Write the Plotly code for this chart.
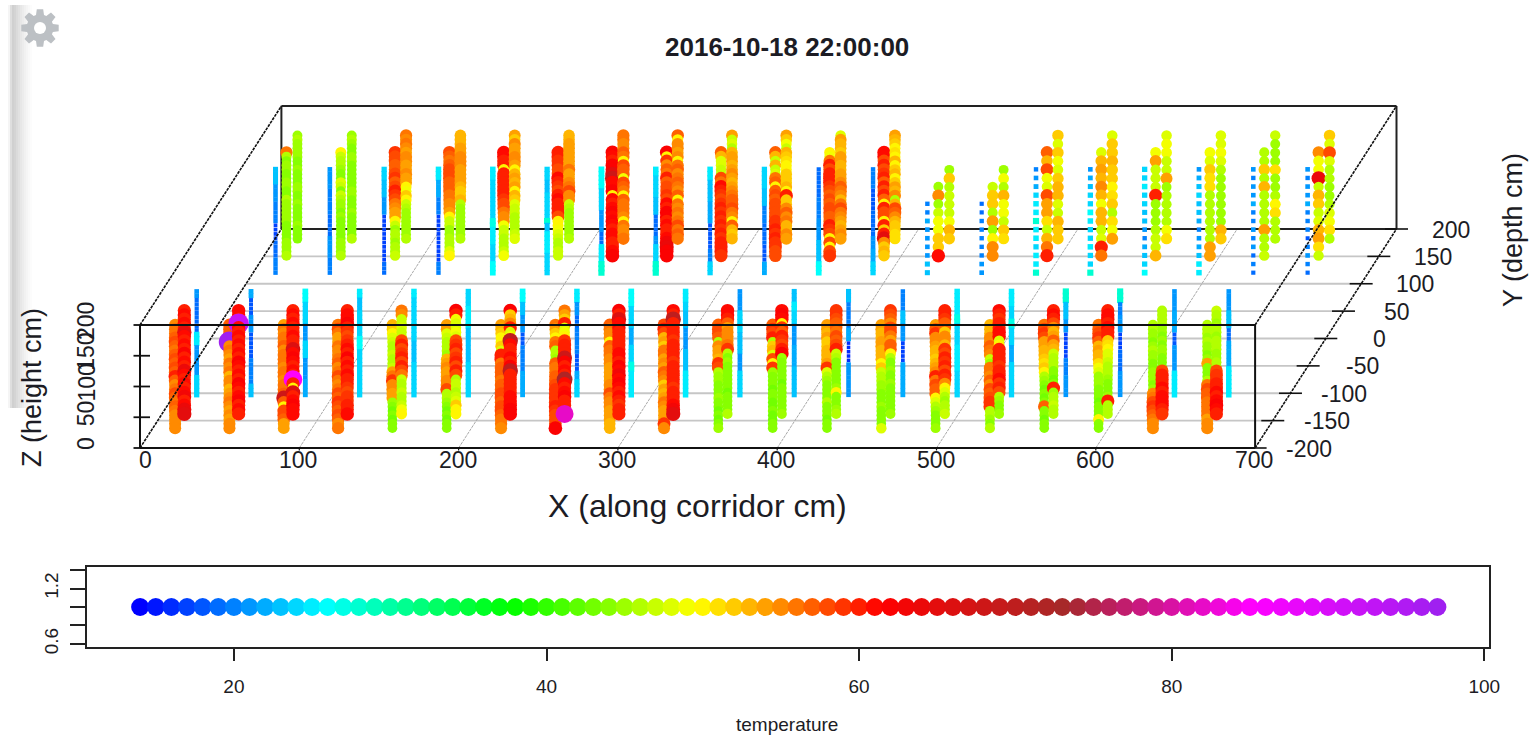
import math
import plotly.graph_objects as go

TITLE = "2016-10-18 22:00:00"
X_TICKS = [0, 100, 200, 300, 400, 500, 600, 700]
Y_TICKS = [-200, -150, -100, -50, 0, 50, 100, 150, 200]
Z_TICKS = [0, 50, 100, 150, 200]
COLOR_ANCHORS = ["#0000ff", "#00ffff", "#00ff00", "#ffff00", "#ff0000", "#a52a2a", "#ff00ff", "#a020f0"]
T_LEGEND = list(range(14, 98))
LEG_X_TICKS = [20, 40, 60, 80, 100]
LEG_Y_TICKS = [0.6, 0.8, 1.0, 1.2, 1.4]
LEG_Y_TEXT = ["0.6", "", "", "1.2", ""]

X_POS = [16.5, 50.6, 84.7, 118.8, 152.9, 187.0, 221.1, 255.2, 289.3, 323.4,
         357.5, 391.6, 425.7, 459.8, 493.9, 528.0, 562.1, 596.2, 630.3, 664.4]
Z_DENSE = [10, 17, 24, 31, 38, 45, 52, 59, 66, 73, 80, 87, 94, 101, 108, 115, 122, 129, 136, 143, 150, 157, 164, 171, 178]
Z_SPARSE = [10, 24, 38, 52, 66, 80, 94, 108, 122, 136, 150, 164, 178]
Y_FRONT_A, Y_FRONT_B, Y_FRONT_C = -175, -149, -114
Y_BACK_C, Y_BACK_A, Y_BACK_B = 109, 140, 171

FRONT_A = [
 [55,55,55,55,56,57,56,57,58,56,55,57,60,57,58,57,58,57,56,57,58,57,56,56,55],
 [55,55,54,55,54,55,56,55,54,53,55,55,53,56,55,56,54,55,56,55,97,55,57,57,57],
 [54,54,57,58,58,50,57,68,57,56,56,55,56,56,55,56,56,56,55,57,56,56,55,56,54],
 [56,55,57,58,57,58,59,57,58,56,55,56,58,56,55,57,56,55,55,56,54,54,56,58,56],
 [44,44,43,44,43,44,45,54,54,55,55,59,56,54,47,46,46,47,46,46,47,48,50,52,53],
 [44,44,43,44,43,44,45,46,46,58,55,55,54,54,55,54,53,45,46,46,46,47,48,54,54],
 [55,56,56,57,58,58,57,58,58,57,57,56,57,57,57,56,60,60,48,52,50,50,52,53,54],
 [62,58,58,58,59,60,59,59,59,59,58,57,57,56,56,57,45,46,46,57,56,50,52,54,56],
 [53,53,54,54,54,55,55,56,58,55,55,54,54,54,54,55,55,56,56,57,50,55,55,56,57],
 [55,59,54,54,54,55,56,54,53,54,52,55,56,57,54,55,54,56,56,52,54,53,58,60,58],
 [45,44,43,44,43,44,44,45,44,44,44,45,45,46,58,59,53,54,54,55,46,57,58,58,57],
 [44,44,43,43,44,43,43,44,44,43,44,44,44,45,59,50,58,48,53,52,46,60,58,59,57],
 [44,44,43,44,44,44,46,44,44,44,44,45,46,48,59,54,53,53,53,52,52,54,53,54,54],
 [48,44,44,44,44,45,44,44,44,45,45,46,46,47,52,50,53,53,53,54,54,53,53,54,54],
 [45,44,44,44,45,46,48,50,57,57,58,56,60,55,54,53,52,53,53,54,55,55,59,57,54],
 [46,44,45,46,46,59,59,58,57,58,55,57,55,56,56,45,47,55,56,57,55,55,53,53,53],
 [44,44,43,44,44,57,44,43,44,43,44,45,46,50,52,51,52,53,53,54,54,58,59,58,56],
 [44,44,50,44,44,44,43,44,44,44,45,45,45,48,49,51,53,53,54,53,57,59,58,57,56],
 [55,55,56,57,58,59,58,56,55,45,44,45,45,45,44,44,45,45,46,45,44,45,45,46,46],
 [55,55,54,56,56,56,56,57,57,58,56,46,44,44,44,54,45,44,45,45,46,45,46,46,46],
]
FRONT_B = [
 [65,64,61,60,63,61,60,61,60,61,64,60,61,60,62,60,61,60,61,65,60,61,60,61,60],
 [60,61,60,62,61,60,61,62,60,61,60,61,62,60,61,60,61,60,61,60,61,92,60,61,61],
 [61,61,62,61,60,66,50,60,85,60,61,60,61,62,61,66,60,60,61,60,60,61,60,61,60],
 [61,60,60,59,59,58,59,60,60,61,60,61,60,62,60,61,60,59,58,59,60,62,61,61,60],
 [50,49,47,46,46,47,46,46,47,56,58,60,58,60,59,58,60,58,47,47,48,47,47,55,56],
 [50,50,52,48,47,46,47,47,46,58,60,58,60,59,58,60,59,58,48,49,48,48,49,60,62],
 [62,62,61,61,61,60,60,60,60,60,70,62,60,61,60,60,61,70,49,48,60,55,53,52,62],
 [82,60,60,60,62,61,60,61,72,60,61,60,62,68,60,60,60,59,50,49,48,60,52,54,56],
 [60,60,59,60,61,60,61,62,61,63,61,62,60,61,61,60,60,60,60,60,61,61,66,60,62],
 [65,63,61,60,60,60,59,60,60,60,60,60,59,60,60,60,60,59,60,60,60,60,70,60,61],
 [46,44,44,44,44,43,44,44,44,44,44,44,45,44,46,59,56,55,55,55,54,57,60,61,61],
 [45,44,44,44,44,44,44,43,44,44,44,44,44,45,62,60,58,59,60,57,59,50,61,62,61],
 [46,45,44,44,44,50,45,44,44,44,44,44,44,46,47,60,58,57,58,56,57,57,58,59,59],
 [45,44,44,44,44,44,44,45,44,44,45,44,44,46,50,57,57,54,56,58,58,55,57,58,59],
 [47,46,46,45,46,48,50,55,59,60,58,60,59,60,58,59,53,55,55,52,57,57,59,60,60],
 [45,44,44,45,46,58,60,59,61,60,60,59,60,60,60,60,50,48,61,61,60,60,59,60,61],
 [46,46,47,46,46,45,60,44,43,44,44,46,46,46,47,53,54,57,54,53,55,58,60,61,60],
 [46,46,46,60,45,44,44,44,45,46,46,46,47,48,48,50,51,52,60,60,61,60,61,61,60],
 [59,60,61,61,61,60,61,60,60,60,58,44,44,44,45,45,44,45,44,45,45,46,46,46,46],
 [60,61,62,61,60,61,60,60,59,59,58,46,46,45,45,46,46,46,45,46,46,45,46,46,47],
]
FRONT_C = [
 [24]*5+[21]*7+[25]*3+[19]*8+[21]*2,
 [23]*3+[20]*6+[18]*6+[21]*4+[18]*4+[22]*2,
 [22]*4+[21]*5+[24]*4+[21]*4+[24]*5+[26]*3,
 [24]*11+[26]*3+[24]*6+[23]*3+[25]*2,
 [24]*8+[23]*5+[24]*10+[25]*2,
 [24]*8+[23]*8+[25]*5+[24]*4,
 [22]*6+[20]*6+[18]*3+[21]*4+[23]*3+[26]*3,
 [24]*4+[22]*2+[18]*4+[20]*6+[19]*3+[21]*3+[25]*3,
 [25]*6+[27]*2+[24]*4+[22]*4+[24]*5+[26]*4,
 [25]*6+[23]*5+[21]*5+[23]*4+[24]*2+[25]*3,
 [24]*6+[21]*4+[23]*5+[24]*5+[21]*5,
 [23]*7+[22]*5+[21]*5+[24]*3+[25]*2+[23]*3,
 [21]*8+[16]*5+[22]*3+[20]*6+[23]*3,
 [22]*8+[17]*5+[21]*4+[23]*3+[20]*5,
 [24]*6+[25]*6+[24]*5+[27]*2+[25]*6,
 [24]*8+[22]*4+[24]*4+[27]*2+[24]*3+[25]*4,
 [21]*5+[20]*4+[17]*6+[21]*3+[23]*4+[28]*3,
 [21]*6+[19]*5+[17]*4+[21]*4+[20]*3+[28]*3,
 [25]*6+[21]*6+[18]*3+[22]*5+[21]*5,
 [25]*7+[22]*6+[19]*3+[23]*4+[21]*5,
]
BACK_C = [
 [20]*4+[19]*4+[17]*4+[20]*5+[21]*4+[23]*4,
 [20]*4+[21]*5+[19]*5+[20]*6+[21]*5,
 [19]*3+[17]*11+[21]*4+[23]*4+[24]*3,
 [20]*3+[17]*11+[20]*4+[22]*4+[25]*3,
 [26]*3+[24]*4+[25]*4+[27]*2+[24]*9+[25]*3,
 [24]*5+[25]*5+[23]*2+[28]+[24]*6+[23]*3+[24]*3,
 [28]*3+[25]*4+[19]*3+[21]*5+[24]*5+[26]*5,
 [28]*3+[24]*4+[21]*2+[19]*5+[23]*4+[24]*5+[25]*2,
 [24]*3+[20]*3+[18]*6+[22]*5+[23]*5+[25]*3,
 [22]*3+[18]*4+[19]*5+[20]*4+[23]*4+[24]*5,
 [26]*3+[23]*5+[21]*5+[20]*5+[19]*7,
 [24]*3+[22]*3+[21]*3+[19]*6+[18]*5+[20]*5,
 [23,23,21,21,21,21,22,20,20],
 [21,21,20,20,20,20,20,19,19],
 [28,25,25,24,25,25,28,25,25,24,22,21,20],
 [28,24,24,25,24,24,25,26,24,24,23,22,21],
 [26,24,23,22,20,21,23,23,24,24,25,24,24],
 [25,25,23,22,21,20,22,23,23,24,23,22,21],
 [19,20,19,21,20,21,20,20,22,21,21,20,21],
 [19,20,21,20,18,20,20,20,22,21,21,20,21],
]
BACK_A = [
 [46,45,45,45,44,44,44,44,45,45,45,45,45,46,44,44,45,45,44,44,45,45,44,46,56],
 [46,45,45,45,44,44,44,44,44,45,44,45,45,46,47,44,47,48,44,44,45,46,46,47,50],
 [47,46,46,45,46,46,45,47,50,54,54,55,56,58,59,60,58,57,59,58,57,57,58,58,59],
 [50,48,46,46,46,45,45,47,47,50,54,55,55,56,56,57,57,57,58,58,58,57,56,57,58],
 [49,47,46,46,46,47,47,49,55,55,56,58,58,59,60,60,60,60,60,60,50,60,60,61,61],
 [47,47,46,46,47,48,49,50,50,58,60,60,60,61,60,58,59,60,61,58,58,59,59,60,60],
 [62,61,60,60,61,61,60,61,62,61,62,61,60,61,50,62,61,61,68,65,62,62,60,61,62],
 [62,62,64,63,61,60,60,61,60,62,62,60,61,58,59,58,58,57,60,56,57,55,59,50,62],
 [59,60,60,60,59,60,59,60,59,60,59,60,59,58,59,60,61,56,58,47,47,48,48,53,57],
 [58,58,59,59,60,59,60,59,59,58,58,58,58,57,58,57,50,57,56,48,47,53,47,53,57],
 [59,58,50,58,50,58,59,60,57,57,58,58,57,58,57,58,59,60,60,60,58,60,56,49,50],
 [52,53,52,55,65,60,52,60,50,58,58,60,50,57,60,58,60,57,60,59,58,60,58,61,61],
 [61,52,52,49,49,47,45,55,45],
 [55,55,50,45,54,46,52,52,47],
 [60,56,53,47,51,54,54,58,48,49,58,53,57],
 [56,60,48,47,53,53,49,53,55,53,54,53,48],
 [53,47,47,46,45,45,45,60,47,47,47,54,49],
 [54,54,46,46,46,46,46,46,51,51,52,48,49],
 [47,46,46,54,46,46,46,46,53,46,52,46,46],
 [47,51,54,53,48,47,52,53,47,64,49,49,55],
]
BACK_B = [
 [44,44,44,45,44,44,44,44,45,44,44,45,45,44,44,44,45,44,44,45,45,45,45,46,45],
 [46,44,44,44,44,44,45,44,44,44,45,45,44,44,44,44,44,44,45,45,44,44,45,46,45],
 [46,45,45,45,45,45,45,46,47,50,52,49,50,54,54,55,54,54,55,55,54,55,56,55,56],
 [46,45,45,45,45,45,45,45,46,53,52,52,53,54,54,54,54,55,55,55,54,54,53,53,53],
 [48,47,46,46,46,46,47,47,48,52,53,50,54,53,54,53,50,54,55,55,54,54,55,52,54],
 [46,45,45,45,45,45,45,46,47,55,55,58,56,55,54,54,56,54,54,54,54,54,54,53,53],
 [56,55,55,56,50,55,56,56,56,57,50,56,57,58,49,57,57,58,50,56,57,55,55,56,56],
 [56,57,56,58,56,55,56,55,56,50,57,55,56,57,56,55,57,56,50,55,54,55,55,50,57],
 [53,52,53,57,50,55,56,58,57,57,56,55,54,53,54,55,54,53,54,54,53,46,48,47,54],
 [54,55,53,53,56,55,57,55,52,52,60,50,53,52,52,52,50,50,51,52,53,47,49,52,54],
 [54,55,54,53,54,55,56,58,56,53,55,56,57,55,54,54,53,53,54,54,52,53,53,54,48],
 [51,51,52,52,53,55,57,58,53,46,55,53,54,52,50,53,52,50,53,50,51,50,52,53,54],
 [52,53,49,47,47,47,46,52,45],
 [51,52,47,49,49,53,46,49,45],
 [52,52,53,47,48,53,53,52,48,49,52,48,52],
 [54,49,51,46,52,51,50,52,52,53,52,52,48],
 [51,49,46,46,46,46,45,54,47,47,49,49,48],
 [52,53,45,45,45,45,45,45,46,48,49,48,48],
 [46,46,46,51,50,46,45,45,51,45,45,45,47],
 [46,51,49,48,46,45,45,46,46,48,58,48,52],
]

# oblique projection of the 3D box onto the page (scatterplot3d style)
XL, YB, SX, SZ, SYX, SYY = 140.0, 448.0, 1.593, 0.615, 0.3535, 0.5475
T_MIN, T_MAX = 14, 97
SIZE_PER_DEGREE = 0.22
COOL_LIMIT = 30
FONT = "Liberation Sans"
INK = "#1c1c24"

def px(x, y, z=0):
    return XL + SX * x + SYX * (y + 200)

def py(x, y, z=0):
    return YB - SZ * z - SYY * (y + 200)

def polyline(points):
    xs, ys = [], []
    for seg in points:
        for p in seg:
            xs.append(px(*p))
            ys.append(py(*p))
        xs.append(None)
        ys.append(None)
    return xs, ys

SCALE = [[i / (len(COLOR_ANCHORS) - 1), c] for i, c in enumerate(COLOR_ANCHORS)]
fig = go.Figure()

def add_lines(segs, color, width, dash="solid"):
    xs, ys = polyline(segs)
    fig.add_trace(go.Scatter(x=xs, y=ys, mode="lines", hoverinfo="skip", showlegend=False,
                             line=dict(color=color, width=width, dash=dash)))

# floor grid, behind the points
add_lines([[(0, y, 0), (700, y, 0)] for y in Y_TICKS[1:-1]], "#c6c6c6", 1.8)
add_lines([[(x, -200, 0), (x, 200, 0)] for x in X_TICKS[1:-1]], "#a8a8a8", 1, "3px,1px")
# back face of the box
add_lines([[(0, 200, 0), (700, 200, 0)], [(0, 200, 200), (700, 200, 200)]], "#222222", 2)
add_lines([[(0, 200, 0), (0, 200, 200)], [(700, 200, 0), (700, 200, 200)]], "#222222", 2)

# sensor readings
sx, sy, st = [], [], []
rows = [(BACK_C, Y_BACK_C), (BACK_A, Y_BACK_A), (BACK_B, Y_BACK_B),
        (FRONT_C, Y_FRONT_C), (FRONT_A, Y_FRONT_A), (FRONT_B, Y_FRONT_B)]
for temps, y_val in rows:
    for x_val, col in zip(X_POS, temps):
        levels = Z_DENSE if len(col) > 13 else Z_SPARSE
        pairs = list(zip(levels, col))
        for z_val, t in reversed(pairs):
            sx.append(px(x_val, y_val, z_val))
            sy.append(py(x_val, y_val, z_val))
            st.append(t)
fig.add_trace(go.Scatter(x=sx, y=sy, mode="markers", hoverinfo="skip", showlegend=False,
                         marker=dict(color=st, colorscale=SCALE, cmin=T_MIN, cmax=T_MAX, opacity=1,
                                     symbol=["square" if t < COOL_LIMIT else "circle" for t in st],
                                     size=[t * SIZE_PER_DEGREE for t in st], line=dict(width=0))))

# front of the box and the slanted edges, over the points
add_lines([[(0, -200, 0), (700, -200, 0)], [(0, -200, 200), (700, -200, 200)],
           [(0, -200, 0), (0, -200, 200)], [(700, -200, 0), (700, -200, 200)]], "#111111", 2)
add_lines([[(0, -200, 0), (0, 200, 0)], [(0, -200, 200), (0, 200, 200)],
           [(700, -200, 0), (700, 200, 0)], [(700, -200, 200), (700, 200, 200)]], "#111111", 1.6, "3px,1px")

# tick marks
X_TICK_SPAN = 11.5 / SX
Z_TICK_IN, Z_TICK_OUT = 10 / SX, 6.5 / SX
add_lines([[(700 - X_TICK_SPAN, y, 0), (700 + X_TICK_SPAN, y, 0)] for y in Y_TICKS], "#111111", 1.6)
add_lines([[(-Z_TICK_OUT, -200, z), (Z_TICK_IN if 0 < z < 200 else 0, -200, z)] for z in Z_TICKS], "#111111", 1.8)
add_lines([[(x, -200, 0), (x, -200, -4)] for x in X_TICKS[1:-1]], "#111111", 1.2)

# colour legend
fig.add_trace(go.Scatter(x=T_LEGEND, y=[1.0] * len(T_LEGEND), xaxis="x2", yaxis="y2", mode="markers",
                         hoverinfo="skip", showlegend=False,
                         marker=dict(color=T_LEGEND, colorscale=SCALE, cmin=T_MIN, cmax=T_MAX, opacity=1,
                                     size=18, line=dict(width=0))))

anns = []
def text(x, y, s, size, angle=0, weight="normal", color=INK, family=FONT):
    anns.append(dict(x=x, y=y, xref="x", yref="y", text=s, showarrow=False, textangle=angle,
                     xanchor="center", yanchor="middle",
                     font=dict(family=family, size=size, color=color, weight=weight)))

text(787, 47, TITLE, 26, weight="bold")
for xt in X_TICKS:
    text(px(xt, -200) + (5 if xt == 0 else -1), 460, str(xt), 23)
for yt in Y_TICKS:
    text(px(700, yt) + 54, py(700, yt) + 0.5, str(yt), 23)
for zt in Z_TICKS:
    text(86, py(0, -200, zt) - 4, str(zt), 23, angle=-90)
text(697, 506, "X (along corridor cm)", 32)
text(1513, 230, "Y (depth cm)", 27, angle=-90)
text(32, 388, "Z (height cm)", 27, angle=-90)
text(787, 724, "temperature", 19)

# soft shadow strip at the left page edge
shapes = []
SHADOW_LEVELS = [245, 222, 208, 212, 219, 225, 231, 236, 241, 245, 249, 252]
for i, g in enumerate(SHADOW_LEVELS):
    shapes.append(dict(type="rect", xref="x", yref="y", x0=8 + 2 * i, x1=10 + 2 * i, y0=5, y1=408,
                       fillcolor=f"rgb({g},{g},{g})", line=dict(width=0), layer="below"))

# settings cog at the top left
GEAR_X, GEAR_Y, GEAR_TEETH = 40, 28, 8
pts = []
for k in range(GEAR_TEETH):
    a = 2 * math.pi * k / GEAR_TEETH
    for da, r in [(-0.30, 13.5), (-0.17, 19), (0.17, 19), (0.30, 13.5)]:
        pts.append((GEAR_X + r * math.cos(a + da), GEAR_Y + r * math.sin(a + da)))
gear_path = "M " + " L ".join(f"{x:.1f},{y:.1f}" for x, y in pts) + " Z"
shapes.append(dict(type="path", xref="x", yref="y", path=gear_path, fillcolor="#bcc0c4", line=dict(width=0)))
shapes.append(dict(type="circle", xref="x", yref="y", x0=GEAR_X - 6, x1=GEAR_X + 6, y0=GEAR_Y - 6, y1=GEAR_Y + 6,
                   fillcolor="white", line=dict(width=0)))

W, H = 1532, 738
fig.update_layout(
    width=W, height=H, autosize=False,
    margin=dict(l=0, r=0, t=0, b=0, autoexpand=False), paper_bgcolor="white", plot_bgcolor="rgba(0,0,0,0)",
    showlegend=False, annotations=anns, shapes=shapes,
    xaxis=dict(visible=False, range=[0, W], domain=[0, 1], fixedrange=True, automargin=False),
    yaxis=dict(visible=False, range=[H, 0], domain=[0, 1], fixedrange=True, automargin=False),
    xaxis2=dict(domain=[87 / W, 1489 / W], range=[10.6, 100.3], anchor="y2", tickvals=LEG_X_TICKS,
                ticks="outside", ticklen=12, tickwidth=1.5, tickcolor="#222", showline=True, mirror=True,
                linecolor="#222", linewidth=2, showgrid=False, zeroline=False, ticklabelstandoff=9,
                automargin=False, tickfont=dict(family=FONT, size=19, color=INK)),
    yaxis2=dict(domain=[1 - 647.3 / H, 1 - 566.7 / H], range=[0.564, 1.436], anchor="x2", tickvals=LEG_Y_TICKS,
                ticktext=LEG_Y_TEXT, tickangle=-90, ticks="outside", ticklen=15, tickwidth=1.5, tickcolor="#222",
                showline=True, mirror=True, linecolor="#222", linewidth=2, showgrid=False, zeroline=False,
                automargin=False, ticklabelstandoff=4, tickfont=dict(family=FONT, size=19, color=INK)),
)
fig.write_html("out.html", config=dict(displayModeBar=False),
               post_script="document.body.style.margin='0';document.body.style.overflow='hidden';")
